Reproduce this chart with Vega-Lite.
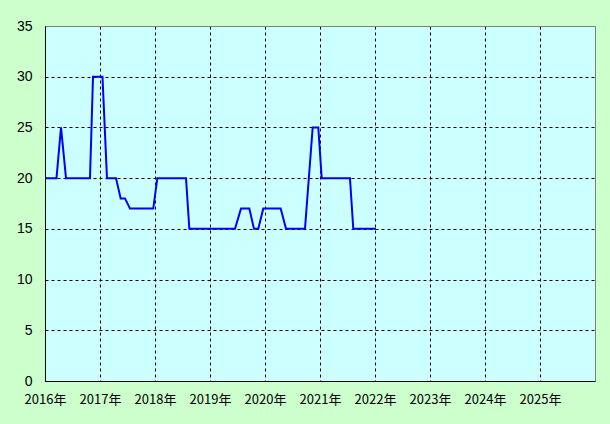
{
  "$schema": "https://vega.github.io/schema/vega-lite/v6.json",
  "width": 550,
  "height": 355,
  "autosize": {"type": "none"},
  "padding": {"left": 45, "top": 26, "right": 15, "bottom": 43},
  "background": "#ccffcc",
  "config": {
    "view": {"fill": "#ccffff", "stroke": "#808080", "strokeWidth": 1},
    "axis": {
      "labelFont": "Noto Sans CJK JP",
      "labelFontSize": 13,
      "labelColor": "#000000",
      "domainColor": "#000000",
      "domainWidth": 1,
      "ticks": false,
      "gridColor": "#000000",
      "gridOpacity": 1,
      "gridWidth": 1,
      "gridDash": [3, 3],
      "title": null
    }
  },
  "data": {
    "values": [
      {"t": 2016.009, "v": 20},
      {"t": 2016.209, "v": 20},
      {"t": 2016.291, "v": 25},
      {"t": 2016.382, "v": 20},
      {"t": 2016.818, "v": 20},
      {"t": 2016.873, "v": 30},
      {"t": 2017.045, "v": 30},
      {"t": 2017.127, "v": 20},
      {"t": 2017.291, "v": 20},
      {"t": 2017.376, "v": 18},
      {"t": 2017.455, "v": 18},
      {"t": 2017.545, "v": 17},
      {"t": 2017.969, "v": 17},
      {"t": 2018.042, "v": 20},
      {"t": 2018.564, "v": 20},
      {"t": 2018.624, "v": 15},
      {"t": 2019.455, "v": 15},
      {"t": 2019.564, "v": 17},
      {"t": 2019.715, "v": 17},
      {"t": 2019.8, "v": 15},
      {"t": 2019.878, "v": 15},
      {"t": 2019.969, "v": 17},
      {"t": 2020.285, "v": 17},
      {"t": 2020.382, "v": 15},
      {"t": 2020.727, "v": 15},
      {"t": 2020.867, "v": 25},
      {"t": 2020.969, "v": 25},
      {"t": 2021.031, "v": 20},
      {"t": 2021.545, "v": 20},
      {"t": 2021.605, "v": 15},
      {"t": 2022.018, "v": 15}
    ]
  },
  "mark": {"type": "line", "color": "#0000ff", "strokeWidth": 2, "interpolate": "linear"},
  "encoding": {
    "x": {
      "field": "t",
      "type": "quantitative",
      "scale": {"domain": [2016, 2026], "nice": false, "zero": false},
      "axis": {
        "values": [2016, 2017, 2018, 2019, 2020, 2021, 2022, 2023, 2024, 2025],
        "labelExpr": "datum.value + '年'",
        "labelPadding": 12,
        "labelAlign": "center",
        "labelFlush": false,
        "labelOverlap": false
      }
    },
    "y": {
      "field": "v",
      "type": "quantitative",
      "scale": {"domain": [0, 35], "nice": false},
      "axis": {
        "values": [0, 5, 10, 15, 20, 25, 30, 35],
        "labelPadding": 13,
        "labelFont": "Liberation Sans",
        "labelFontSize": 14,
        "gridDash": {"condition": {"test": "datum.value == 35", "value": []}, "value": [3, 3]},
        "gridColor": {"condition": {"test": "datum.value == 35", "value": "#808080"}, "value": "#000000"}
      }
    }
  }
}
